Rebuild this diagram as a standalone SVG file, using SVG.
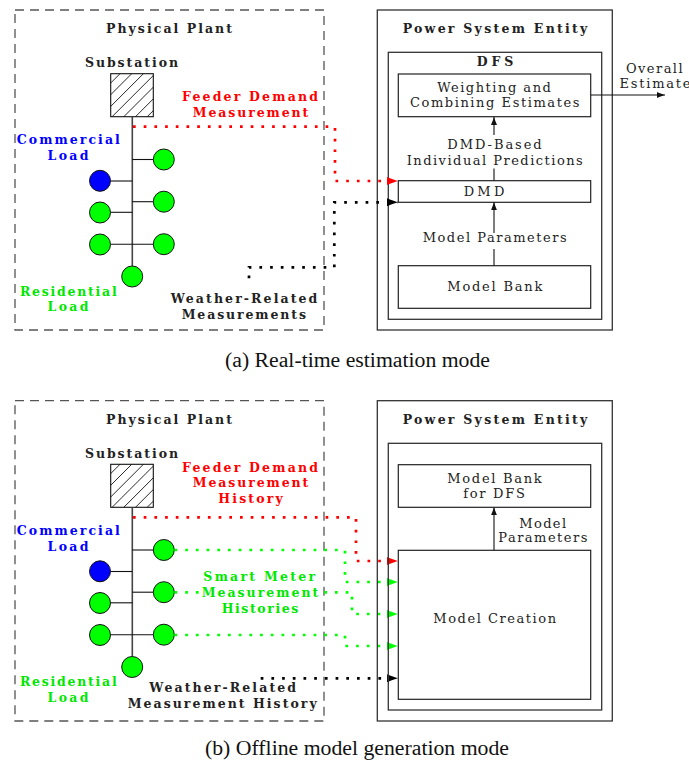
<svg xmlns="http://www.w3.org/2000/svg" width="689" height="764" viewBox="0 0 689 764">
<style>
.t{font-family:"DejaVu Serif","Liberation Serif",serif;fill:#222;text-anchor:middle}
.b{font-weight:bold;font-size:12.5px}
.n{font-size:13px}
.cap{font-family:"Liberation Serif","Times New Roman",serif;font-size:20px;fill:#111;text-anchor:middle}
.red{fill:#ff0000}.grn{fill:#00e800}.blu{fill:#0000ff}
.plant{fill:none;stroke:#555;stroke-width:1.3;stroke-dasharray:9 6}
.cont{fill:none;stroke:#333;stroke-width:1.3}
.box{fill:#fff;stroke:#222;stroke-width:1.2}
.trunk{stroke:#444;stroke-width:1.6}
.br{stroke:#111;stroke-width:1.1}
.cg{fill:#00ff00;stroke:#111;stroke-width:1}
.cb{fill:#0000ff;stroke:#111;stroke-width:1}
.sub{fill:none;stroke:#111;stroke-width:1.1}
.hl{fill:none;stroke:#111;stroke-width:0.9}
.dot{fill:none;stroke-width:2.7;stroke-dasharray:2.7 8}
.dr{stroke:#ff0000}.dg{stroke:#00ff00}.dk{stroke:#000}
.ar{fill:none;stroke:#111;stroke-width:1.1}
</style>
<defs>
<clipPath id="subclip"><rect x="0" y="0" width="42.6" height="43"/></clipPath>
<path id="hatchlines" class="hl" d="M14.3,-5 L-5,14.3 M26,-5 L-5,26 M37.7,-5 L-5,37.7 M49.4,-5 L-5,49.4 M61.1,-5 L-5,61.1 M72.8,-5 L-5,72.8 M84.5,-5 L-5,84.5"/>
<marker id="ak" markerUnits="userSpaceOnUse" viewBox="0 0 8 6" refX="8" refY="3" markerWidth="8" markerHeight="6" orient="auto">
<path d="M0,0 C3,1.2 6,2.4 8,3 C6,3.6 3,4.8 0,6 Z" fill="#111"/>
</marker>
<marker id="mr" markerUnits="userSpaceOnUse" viewBox="0 0 11 8" refX="11" refY="4" markerWidth="11" markerHeight="8" orient="auto">
<path d="M0,0 C4,1.6 8,3.2 11,4 C8,4.8 4,6.4 0,8 Z" fill="#ff0000"/>
</marker>
<marker id="mg" markerUnits="userSpaceOnUse" viewBox="0 0 11 8" refX="11" refY="4" markerWidth="11" markerHeight="8" orient="auto">
<path d="M0,0 C4,1.6 8,3.2 11,4 C8,4.8 4,6.4 0,8 Z" fill="#00ff00"/>
</marker>
<marker id="mk" markerUnits="userSpaceOnUse" viewBox="0 0 11 8" refX="11" refY="4" markerWidth="11" markerHeight="8" orient="auto">
<path d="M0,0 C4,1.6 8,3.2 11,4 C8,4.8 4,6.4 0,8 Z" fill="#000"/>
</marker>
</defs>
<rect width="689" height="764" fill="#fff"/>

<!-- ===== (a) Real-time estimation mode ===== -->
<g id="a-plant">
<rect class="plant" x="15" y="10" width="309" height="320"/>
<text class="t b" x="169" y="33" textLength="126" lengthAdjust="spacing">Physical Plant</text>
</g>
<g id="a-substation">
<text class="t b" x="131.5" y="67" textLength="93" lengthAdjust="spacing">Substation</text>
<g transform="translate(110.7,73.7)">
<g clip-path="url(#subclip)"><use href="#hatchlines"/></g>
<rect class="sub" x="0" y="0" width="42.6" height="43"/>
</g>
</g>
<g id="a-feeder">
<line class="trunk" x1="132.3" y1="116.7" x2="132.3" y2="266"/>
<line class="br" x1="132.3" y1="159.5" x2="153.3" y2="159.5"/>
<line class="br" x1="132.3" y1="201.7" x2="153.3" y2="201.7"/>
<line class="br" x1="110.7" y1="244.3" x2="153.3" y2="244.3"/>
<line class="br" x1="110.7" y1="181" x2="132.3" y2="181"/>
<line class="br" x1="110.7" y1="212.3" x2="132.3" y2="212.3"/>
</g>
<g id="a-load-r1"><circle class="cg" cx="163.8" cy="159.5" r="10.5"/></g>
<g id="a-load-r2"><circle class="cg" cx="163.8" cy="201.7" r="10.5"/></g>
<g id="a-load-r3"><circle class="cg" cx="163.8" cy="244.2" r="10.5"/></g>
<g id="a-load-c"><circle class="cb" cx="100" cy="180.8" r="10.5"/></g>
<g id="a-load-l2"><circle class="cg" cx="100" cy="212.5" r="10.5"/></g>
<g id="a-load-l3"><circle class="cg" cx="100" cy="244.5" r="10.5"/></g>
<g id="a-load-b"><circle class="cg" cx="132.2" cy="276.5" r="10.5"/></g>
<g id="a-labels">
<text class="t b blu" x="68.3" y="144" textLength="103" lengthAdjust="spacing">Commercial</text>
<text class="t b blu" x="68" y="160" textLength="41" lengthAdjust="spacing">Load</text>
<text class="t b grn" x="68.3" y="296" textLength="96.7" lengthAdjust="spacing">Residential</text>
<text class="t b grn" x="68" y="311" textLength="41" lengthAdjust="spacing">Load</text>
<text class="t b red" x="250" y="101" textLength="136" lengthAdjust="spacing">Feeder Demand</text>
<text class="t b red" x="250.5" y="116.5" textLength="115.6" lengthAdjust="spacing">Measurement</text>
<text class="t b" x="244" y="302.5" textLength="146.7" lengthAdjust="spacing">Weather-Related</text>
<text class="t b" x="243.8" y="318.5" textLength="124.3" lengthAdjust="spacing">Measurements</text>
</g>
<g id="a-pse">
<rect class="cont" x="377.3" y="10" width="235" height="320"/>
<text class="t b" x="495" y="33.3" textLength="184.7" lengthAdjust="spacing">Power System Entity</text>
</g>
<g id="a-dfs">
<rect class="cont" x="388.3" y="52.3" width="213.4" height="267"/>
<text class="t b" x="495" y="65.7" textLength="36.7" lengthAdjust="spacing">DFS</text>
</g>
<g id="a-weighting">
<rect class="box" x="398.3" y="74" width="192.4" height="42.7"/>
<text class="t n" x="494" y="91.5" textLength="113.7" lengthAdjust="spacing">Weighting and</text>
<text class="t n" x="494.7" y="106.8" textLength="169.3" lengthAdjust="spacing">Combining Estimates</text>
</g>
<g id="a-dmd">
<rect class="box" x="398.3" y="180.7" width="192.4" height="21.6"/>
<text class="t n" x="484" y="195.5" textLength="40.7" lengthAdjust="spacing">DMD</text>
</g>
<g id="a-modelbank">
<rect class="box" x="398.3" y="265.7" width="192.4" height="42.6"/>
<text class="t n" x="494.8" y="291" textLength="95" lengthAdjust="spacing">Model Bank</text>
</g>
<g id="a-out">
<text class="t n" x="654.3" y="72.7" textLength="56.7" lengthAdjust="spacing">Overall</text>
<text class="t n" x="655" y="88.3" textLength="71" lengthAdjust="spacing">Estimate</text>
</g>
<g id="a-connectors">
<path class="dot dr" d="M133,126.7 H335 V181 H398" marker-end="url(#mr)"/>
<path class="dot dk" d="M249,278.3 V267.3 H334.3 V202.3 H398" marker-end="url(#mk)"/>
<line class="ar" x1="590.7" y1="95" x2="665" y2="95" marker-end="url(#ak)"/>
<line class="ar" x1="494" y1="135" x2="494" y2="117" marker-end="url(#ak)"/>
<line class="ar" x1="494" y1="180.7" x2="494" y2="168.5"/>
<line class="ar" x1="494" y1="233" x2="494" y2="202.3" marker-end="url(#ak)"/>
<line class="ar" x1="494" y1="265.7" x2="494" y2="249"/>
<text class="t n" x="494.5" y="149" textLength="94.3" lengthAdjust="spacing">DMD-Based</text>
<text class="t n" x="494.7" y="165" textLength="176" lengthAdjust="spacing">Individual Predictions</text>
<text class="t n" x="494.7" y="242.3" textLength="144" lengthAdjust="spacing">Model Parameters</text>
</g>
<text class="cap" x="357.5" y="367" textLength="265" lengthAdjust="spacingAndGlyphs">(a) Real-time estimation mode</text>

<!-- ===== (b) Offline model generation mode ===== -->
<g id="b-plant">
<rect class="plant" x="15" y="400.7" width="309" height="320.3"/>
<text class="t b" x="169" y="424" textLength="126" lengthAdjust="spacing">Physical Plant</text>
</g>
<g id="b-substation">
<text class="t b" x="131.5" y="457.5" textLength="93" lengthAdjust="spacing">Substation</text>
<g transform="translate(110.7,464.3)">
<g clip-path="url(#subclip)"><use href="#hatchlines"/></g>
<rect class="sub" x="0" y="0" width="42.6" height="43"/>
</g>
</g>
<g id="b-feeder">
<line class="trunk" x1="132.3" y1="507.3" x2="132.3" y2="656.5"/>
<line class="br" x1="132.3" y1="550" x2="153.3" y2="550"/>
<line class="br" x1="132.3" y1="592.2" x2="153.3" y2="592.2"/>
<line class="br" x1="110.7" y1="634.8" x2="153.3" y2="634.8"/>
<line class="br" x1="110.7" y1="571.5" x2="132.3" y2="571.5"/>
<line class="br" x1="110.7" y1="602.8" x2="132.3" y2="602.8"/>
</g>
<g id="b-load-r1"><circle class="cg" cx="163.8" cy="550" r="10.5"/></g>
<g id="b-load-r2"><circle class="cg" cx="163.8" cy="592.2" r="10.5"/></g>
<g id="b-load-r3"><circle class="cg" cx="163.8" cy="634.7" r="10.5"/></g>
<g id="b-load-c"><circle class="cb" cx="100" cy="571.3" r="10.5"/></g>
<g id="b-load-l2"><circle class="cg" cx="100" cy="603" r="10.5"/></g>
<g id="b-load-l3"><circle class="cg" cx="100" cy="635" r="10.5"/></g>
<g id="b-load-b"><circle class="cg" cx="132.2" cy="667" r="10.5"/></g>

<g id="b-connectors">
<path class="dot dr" d="M133,517.3 H356 V561 H398" marker-end="url(#mr)"/>
<path class="dot dg" d="M174.5,550 H345 V582 H398" marker-end="url(#mg)"/>
<path class="dot dg" d="M174.5,592.4 H352 V614 H398" marker-end="url(#mg)"/>
<path class="dot dg" d="M174.5,635 H345 V646 H398" marker-end="url(#mg)"/>
<path class="dot dk" d="M260.7,678.3 H398" marker-end="url(#mk)"/>
<line class="ar" x1="494" y1="550.3" x2="494" y2="507.3" marker-end="url(#ak)"/>
</g>

<g id="b-labels">
<text class="t b blu" x="68.3" y="535" textLength="103" lengthAdjust="spacing">Commercial</text>
<text class="t b blu" x="68" y="551" textLength="41" lengthAdjust="spacing">Load</text>
<text class="t b grn" x="68.3" y="686.3" textLength="96.7" lengthAdjust="spacing">Residential</text>
<text class="t b grn" x="68" y="701.5" textLength="41" lengthAdjust="spacing">Load</text>
<text class="t b red" x="250" y="471.7" textLength="136" lengthAdjust="spacing">Feeder Demand</text>
<text class="t b red" x="250.5" y="487" textLength="115.6" lengthAdjust="spacing">Measurement</text>
<text class="t b red" x="250.5" y="502.7" textLength="64.3" lengthAdjust="spacing">History</text>
<rect x="199" y="586" width="121" height="13" fill="#fff"/>
<text class="t b grn" x="259.2" y="581" textLength="111.7" lengthAdjust="spacing">Smart Meter</text>
<text class="t b grn" x="260" y="596.7" textLength="116.7" lengthAdjust="spacing">Measurement</text>
<text class="t b grn" x="260" y="612.7" textLength="76.7" lengthAdjust="spacing">Histories</text>
<text class="t b" x="222.7" y="691.7" textLength="146.7" lengthAdjust="spacing">Weather-Related</text>
<text class="t b" x="222.2" y="708.3" textLength="189" lengthAdjust="spacing">Measurement History</text>
</g>
<g id="b-pse">
<rect class="cont" x="377.3" y="400.7" width="235" height="320.3"/>
<text class="t b" x="495" y="424.3" textLength="184.7" lengthAdjust="spacing">Power System Entity</text>
</g>
<g id="b-dfs">
<rect class="cont" x="388.3" y="443.3" width="213.4" height="266.7"/>
</g>
<g id="b-modelbank">
<rect class="box" x="398.3" y="464.7" width="192.4" height="42.6"/>
<text class="t n" x="494.5" y="482.7" textLength="94.3" lengthAdjust="spacing">Model Bank</text>
<text class="t n" x="494" y="498.3" textLength="61.7" lengthAdjust="spacing">for DFS</text>
</g>
<g id="b-params">
<text class="t n" x="542.7" y="527.7" textLength="46.7" lengthAdjust="spacing">Model</text>
<text class="t n" x="542.8" y="542.3" textLength="89" lengthAdjust="spacing">Parameters</text>
</g>
<g id="b-creation">
<rect class="box" x="398.3" y="550.3" width="192.4" height="149"/>
<text class="t n" x="494.7" y="623.3" textLength="122.7" lengthAdjust="spacing">Model Creation</text>
</g>
<text class="cap" x="357" y="755" textLength="304" lengthAdjust="spacingAndGlyphs">(b) Offline model generation mode</text>
</svg>
